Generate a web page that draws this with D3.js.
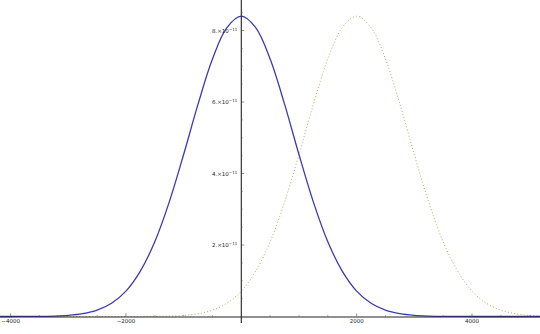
<!DOCTYPE html>
<html>
<head>
<meta charset="utf-8">
<script src="https://cdn.jsdelivr.net/npm/d3@7"></script>
<style>
  body { margin: 0; background: #fff; }
  svg { display: block; }
  .tick-label { font-family: "DejaVu Sans", sans-serif; font-size: 5.5px; fill: #222; }
</style>
</head>
<body>
<svg id="chart"></svg>
<script>
// sample positions along x
const xs = [
  -4250, -4000, -3750, -3500, -3250, -3000, -2750, -2500, -2250, -2000,
  -1750, -1500, -1250, -1000, -750, -500, -250, 0, 250, 500,
  750, 1000, 1250, 1500, 1750, 2000, 2250, 2500, 2750, 3000,
  3250, 3500, 3750, 4000, 4250, 4500, 4750, 5000, 5250
];

// values in units of 10^-11
const solidValues = [
  0, 0.0005, 0.0015, 0.004, 0.012, 0.032, 0.079, 0.177, 0.369, 0.711,
  1.27, 2.09, 3.20, 4.53, 5.94, 7.20, 8.08, 8.40, 8.08, 7.20,
  5.94, 4.53, 3.20, 2.09, 1.27, 0.711, 0.369, 0.177, 0.079, 0.032,
  0.012, 0.004, 0.0015, 0.0005, 0, 0, 0, 0, 0
];

const dottedValues = [
  0, 0, 0, 0, 0, 0, 0, 0, 0, 0.0005,
  0.0015, 0.004, 0.012, 0.032, 0.079, 0.177, 0.369, 0.711, 1.27, 2.09,
  3.20, 4.53, 5.94, 7.20, 8.08, 8.40, 8.08, 7.20, 5.94, 4.53,
  3.20, 2.09, 1.27, 0.711, 0.369, 0.177, 0.079, 0.032, 0.012
];

const xTicks = [-4000, -2000, 2000, 4000];
const xMinorTicks = [-3500, -3000, -2500, -1500, -1000, -500, 500, 1000, 1500, 2500, 3000, 3500, 4500, 5000];
const yTicks = [2, 4, 6, 8];
const yMinorTicks = [0.5, 1, 1.5, 2.5, 3, 3.5, 4.5, 5, 5.5, 6.5, 7, 7.5, 8.5];

const width = 540;
const height = 334;

const svg = d3.select('#chart')
  .attr('width', width)
  .attr('height', height);

const x = d3.scaleLinear().domain([-4000, 4000]).range([10.6, 472]);
const y = d3.scaleLinear().domain([0, 8]).range([316.5, 30.5]);

const line = d3.line()
  .x((d, i) => x(xs[i]))
  .y(d => y(d))
  .curve(d3.curveCatmullRom);

// curves first, axes drawn over them
svg.append('path')
  .datum(dottedValues)
  .attr('d', line)
  .attr('fill', 'none')
  .attr('stroke', '#c2a65a')
  .attr('stroke-width', 1)
  .attr('stroke-dasharray', '1,2.2');

svg.append('path')
  .datum(solidValues)
  .attr('d', line)
  .attr('fill', 'none')
  .attr('stroke', '#3b3bb0')
  .attr('stroke-width', 1.3);

// x axis
svg.append('line')
  .attr('x1', 0).attr('x2', width)
  .attr('y1', y(0) + 0.5).attr('y2', y(0) + 0.5)
  .attr('stroke', '#222').attr('stroke-width', 1.1);

svg.selectAll('.xminor')
  .data(xMinorTicks)
  .enter().append('line')
    .attr('x1', d => x(d)).attr('x2', d => x(d))
    .attr('y1', y(0)).attr('y2', y(0) - 1.5)
    .attr('stroke', '#555').attr('stroke-width', 0.5);

svg.selectAll('.xmajor')
  .data(xTicks)
  .enter().append('line')
    .attr('x1', d => x(d)).attr('x2', d => x(d))
    .attr('y1', y(0)).attr('y2', y(0) - 3)
    .attr('stroke', '#444').attr('stroke-width', 0.6);

svg.selectAll('.xlabel')
  .data(xTicks)
  .enter().append('text')
    .attr('class', 'tick-label')
    .attr('x', d => x(d))
    .attr('y', y(0) + 6.5)
    .attr('text-anchor', 'middle')
    .text(d => d < 0 ? '\u2212' + Math.abs(d) : d);

// y axis
svg.append('line')
  .attr('x1', x(0)).attr('x2', x(0))
  .attr('y1', 0).attr('y2', 323)
  .attr('stroke', '#222').attr('stroke-width', 1.1);

svg.selectAll('.yminor')
  .data(yMinorTicks)
  .enter().append('line')
    .attr('x1', x(0)).attr('x2', x(0) + 1.5)
    .attr('y1', d => y(d)).attr('y2', d => y(d))
    .attr('stroke', '#555').attr('stroke-width', 0.5);

svg.selectAll('.ymajor')
  .data(yTicks)
  .enter().append('line')
    .attr('x1', x(0)).attr('x2', x(0) + 3)
    .attr('y1', d => y(d)).attr('y2', d => y(d))
    .attr('stroke', '#444').attr('stroke-width', 0.6);

const yLabels = svg.selectAll('.ylabel')
  .data(yTicks)
  .enter().append('text')
    .attr('class', 'tick-label')
    .attr('x', x(0) - 4)
    .attr('y', d => y(d) + 2)
    .attr('text-anchor', 'end');

yLabels.append('tspan').text(d => d + '.\u00d710');
yLabels.append('tspan')
  .attr('dy', -2)
  .attr('font-size', '4px')
  .text('\u221211');
</script>
</body>
</html>
